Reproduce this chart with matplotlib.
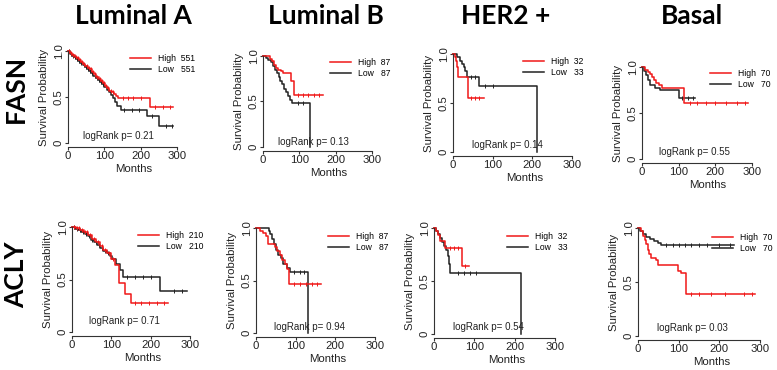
import matplotlib.pyplot as plt
import numpy as np

W, H = 777, 370

subtypes = ['Luminal A', 'Luminal B', 'HER2 +', 'Basal']
genes = ['FASN', 'ACLY']

# Kaplan-Meier step curves: event times, survival after each, last follow-up
fasn_luma_hi_t = [0, 6, 12, 18, 24, 30, 36, 42, 48, 54, 60, 66, 72, 78, 84, 90, 96, 102, 108, 114, 120, 126, 132, 138, 226]
fasn_luma_hi_s = [1.0, 0.98, 0.96, 0.94, 0.92, 0.90, 0.88, 0.86, 0.84, 0.82, 0.80, 0.77, 0.75, 0.72, 0.70, 0.67, 0.65, 0.62, 0.60, 0.57, 0.55, 0.53, 0.51, 0.49, 0.39]
fasn_luma_lo_t = [0, 5, 10, 16, 22, 28, 34, 40, 46, 52, 58, 64, 70, 76, 82, 88, 94, 100, 106, 112, 118, 124, 130, 136, 146, 218, 250]
fasn_luma_lo_s = [1.0, 0.97, 0.95, 0.93, 0.91, 0.89, 0.87, 0.85, 0.83, 0.80, 0.78, 0.76, 0.73, 0.71, 0.69, 0.66, 0.64, 0.61, 0.58, 0.55, 0.52, 0.49, 0.45, 0.40, 0.36, 0.29, 0.19]

fasn_lumb_hi_t = [0, 18, 25, 30, 35, 42, 50, 55, 78, 85]
fasn_lumb_hi_s = [1.0, 0.97, 0.94, 0.90, 0.87, 0.85, 0.83, 0.81, 0.73, 0.57]
fasn_lumb_lo_t = [0, 8, 15, 22, 28, 33, 38, 43, 48, 53, 58, 63, 68, 74, 80, 130]
fasn_lumb_lo_s = [1.0, 0.98, 0.96, 0.93, 0.89, 0.85, 0.81, 0.77, 0.73, 0.69, 0.64, 0.60, 0.56, 0.52, 0.48, 0.0]

fasn_her2_hi_t = [0, 4, 7, 10, 13, 38]
fasn_her2_hi_s = [1.0, 0.97, 0.93, 0.87, 0.77, 0.55]
fasn_her2_lo_t = [0, 10, 17, 22, 27, 31, 35, 65, 213]
fasn_her2_lo_s = [1.0, 0.97, 0.93, 0.90, 0.87, 0.83, 0.77, 0.67, 0.0]

fasn_basal_hi_t = [0, 8, 15, 22, 28, 33, 38, 45, 55, 115]
fasn_basal_hi_s = [1.0, 0.97, 0.95, 0.92, 0.89, 0.86, 0.83, 0.80, 0.77, 0.61]
fasn_basal_lo_t = [0, 6, 12, 17, 22, 35, 48, 100]
fasn_basal_lo_s = [1.0, 0.96, 0.91, 0.86, 0.80, 0.77, 0.75, 0.66]

acly_luma_hi_t = [0, 10, 20, 30, 40, 50, 60, 70, 80, 90, 100, 110, 119, 135, 150]
acly_luma_hi_s = [1.0, 0.99, 0.97, 0.95, 0.92, 0.89, 0.86, 0.82, 0.78, 0.75, 0.70, 0.64, 0.47, 0.36, 0.28]
acly_luma_lo_t = [0, 8, 16, 24, 32, 40, 48, 56, 64, 72, 80, 88, 96, 102, 113, 122, 130, 223]
acly_luma_lo_s = [1.0, 0.98, 0.97, 0.95, 0.93, 0.91, 0.88, 0.86, 0.83, 0.80, 0.77, 0.75, 0.72, 0.70, 0.65, 0.59, 0.52, 0.39]

acly_lumb_hi_t = [0, 10, 18, 24, 30, 48, 54, 60, 66, 72, 78, 84]
acly_lumb_hi_s = [1.0, 0.97, 0.95, 0.92, 0.85, 0.82, 0.78, 0.74, 0.70, 0.66, 0.61, 0.47]
acly_lumb_lo_t = [0, 32, 36, 40, 45, 50, 56, 62, 69, 77, 86, 132]
acly_lumb_lo_s = [1.0, 0.97, 0.94, 0.90, 0.85, 0.79, 0.74, 0.71, 0.66, 0.62, 0.58, 0.0]

acly_her2_hi_t = [0, 5, 10, 14, 27, 70]
acly_her2_hi_s = [1.0, 0.97, 0.93, 0.88, 0.81, 0.64]
acly_her2_lo_t = [0, 5, 10, 15, 20, 25, 30, 35, 38, 40, 215]
acly_her2_lo_s = [1.0, 0.97, 0.94, 0.91, 0.87, 0.83, 0.79, 0.74, 0.66, 0.58, 0.0]

acly_basal_hi_t = [0, 8, 13, 17, 20, 24, 28, 32, 45, 50, 98, 105, 117]
acly_basal_hi_s = [1.0, 0.97, 0.93, 0.89, 0.85, 0.80, 0.76, 0.72, 0.70, 0.66, 0.60, 0.58, 0.39]
acly_basal_lo_t = [0, 5, 12, 20, 30, 40, 50, 57]
acly_basal_lo_s = [1.0, 0.97, 0.94, 0.92, 0.90, 0.88, 0.86, 0.84]

# last follow-up (high, low)
end_times = [(288, 288), (165, 130), (78, 213), (290, 145),
             (245, 292), (164, 132), (86, 215), (288, 237)]
# censor marks (high, low)
censor_hi = [[3, 9, 15, 21, 27, 33, 39, 45, 51, 57, 63, 69, 75, 81, 87, 93, 99, 105, 111, 117, 123,
              150, 165, 180, 200, 240, 262, 280],
             [95, 110, 125, 140, 155], [45, 55, 65],
             [130, 150, 175, 200, 230, 260, 280],
             [5, 12, 18, 25, 33, 38, 45, 55, 65, 75, 85, 95, 105, 160, 175, 195, 215, 235],
             [95, 110, 125, 140, 155],
             [40, 50, 60, 78], [130, 150, 180, 215, 260, 280]]
censor_lo = [[3, 8, 13, 19, 25, 31, 37, 43, 49, 55, 61, 67, 73, 79, 85, 91, 97,
              155, 175, 195, 230, 270, 285],
             [95, 110], [45, 55, 80, 100],
             [110, 125, 140],
             [4, 12, 20, 28, 36, 44, 52, 60, 68, 76, 84, 92, 140, 160, 180, 200, 260, 280],
             [95, 110, 120], [60, 75, 90, 105],
             [70, 85, 100, 115, 130, 150, 170, 200, 225]]

n_high = [551, 87, 32, 70, 210, 87, 32, 70]
n_low = [551, 87, 33, 70, 210, 87, 33, 70]
pvals = ['0.21', '0.13', '0.14', '0.55', '0.71', '0.94', '0.54', '0.03']

curves = [
    (fasn_luma_hi_t, fasn_luma_hi_s, fasn_luma_lo_t, fasn_luma_lo_s),
    (fasn_lumb_hi_t, fasn_lumb_hi_s, fasn_lumb_lo_t, fasn_lumb_lo_s),
    (fasn_her2_hi_t, fasn_her2_hi_s, fasn_her2_lo_t, fasn_her2_lo_s),
    (fasn_basal_hi_t, fasn_basal_hi_s, fasn_basal_lo_t, fasn_basal_lo_s),
    (acly_luma_hi_t, acly_luma_hi_s, acly_luma_lo_t, acly_luma_lo_s),
    (acly_lumb_hi_t, acly_lumb_hi_s, acly_lumb_lo_t, acly_lumb_lo_s),
    (acly_her2_hi_t, acly_her2_hi_s, acly_her2_lo_t, acly_her2_lo_s),
    (acly_basal_hi_t, acly_basal_hi_s, acly_basal_lo_t, acly_basal_lo_s),
]

# panel boxes in pixels: x at 0 months, x at 300 months, y at 1.0, y at 0
boxes = [(68, 177, 51, 143), (263, 372, 56, 147), (453, 572, 54, 152), (642, 752, 67, 159),
         (72, 190, 227, 332), (256, 375, 228, 333), (434, 555, 228, 334), (638, 760, 228, 336)]
# legend: left of line (px), top (px)
legend_pos = [(130, 54), (330, 58), (523, 57), (710, 69),
              (138, 231), (328, 232), (507, 232), (712, 233)]
logrank_pos = [(140, 0.08), (140, 0.05), (136, 0.07), (142, 0.08),
               (133, 0.10), (134, 0.06), (134, 0.07), (133, 0.07)]
title_x = [133, 326, 506, 692]
gene_y = [89, 275]

RED = '#f01818'
BLACK = '#222222'
PX = 72 / 100  # points per pixel

plt.rcParams['font.family'] = ['Liberation Sans', 'DejaVu Sans']

fig = plt.figure(figsize=(W / 100, H / 100), dpi=100)


def step_value(t, s, c):
    return s[np.searchsorted(t, c, side='right') - 1]


for i, (hi_t, hi_s, lo_t, lo_s) in enumerate(curves):
    x0, x3, y1, y0 = boxes[i]
    ax = fig.add_axes([x0 / W, 1 - y0 / H, (x3 - x0) / W, (y0 - y1) / H])
    ax.set_xlim(0, 300)
    ax.set_ylim(0, 1)
    ax.patch.set_alpha(0)

    hi_end, lo_end = end_times[i]
    for t, s, end, cens, col in [(lo_t, lo_s, lo_end, censor_lo[i], BLACK),
                                 (hi_t, hi_s, hi_end, censor_hi[i], RED)]:
        ax.step(list(t) + [end], list(s) + [s[-1]], where='post', color=col, lw=1.1, clip_on=False)
        cy = [step_value(t, s, c) for c in cens]
        ax.plot(cens, cy, ls='none', marker='|', ms=3, mew=0.7, color=col, clip_on=False)

    hl = ax.plot([], [], color=RED, lw=1.1)[0]
    ll = ax.plot([], [], color=BLACK, lw=1.1)[0]
    lx, ly = legend_pos[i]
    ax.legend([hl, ll], [f'High  {n_high[i]}', f'Low   {n_low[i]}'],
              loc='upper left', bbox_to_anchor=((lx - x0) / (x3 - x0), (y0 - ly) / (y0 - y1)),
              frameon=False, fontsize=6.2, borderpad=0, borderaxespad=0,
              handlelength=2.4, handletextpad=0.8, labelspacing=0.25)

    tx, ty = logrank_pos[i]
    ax.text(tx, ty, f'logRank p= {pvals[i]}', ha='center', va='center', fontsize=7, color='#222222')

    for side in ['top', 'right']:
        ax.spines[side].set_visible(False)
    ax.spines['left'].set_bounds(0, 1)
    ax.spines['bottom'].set_bounds(0, 300)
    ax.spines['bottom'].set_position(('outward', 4 * PX))
    for side in ['left', 'bottom']:
        ax.spines[side].set_color('#333333')
        ax.spines[side].set_linewidth(0.8)
    ax.set_xticks([0, 100, 200, 300])
    ax.set_yticks([0, 0.5, 1.0])
    ax.set_yticklabels(['0', '0.5', '1.0'], rotation=90, va='center')
    ax.tick_params(length=3 * PX, width=0.8, color='#333333', labelsize=8.2,
                   labelcolor='#222222', pad=1)

    ax.annotate('Survival Probability', xy=(0, 0.5), xycoords='axes fraction',
                xytext=(-24 * PX, 0), textcoords='offset points', rotation=90,
                ha='center', va='center', fontsize=8.2, color='#222222')
    ax.annotate('Months', xy=(0.6, 0), xycoords='axes fraction',
                xytext=(0, -26 * PX), textcoords='offset points',
                ha='center', va='center', fontsize=8.2, color='#222222')

for j, name in enumerate(subtypes):
    fig.text(title_x[j] / W, 1 - 16 / H, name, ha='center', va='center',
             fontsize=19, weight='bold', family=['Lato', 'DejaVu Sans'])
for j, g in enumerate(genes):
    fig.text(16 / W, 1 - gene_y[j] / H, g, ha='center', va='center', rotation=90,
             fontsize=19, weight='bold', family=['Lato', 'DejaVu Sans'])

fig.savefig('out.png', dpi=100)
